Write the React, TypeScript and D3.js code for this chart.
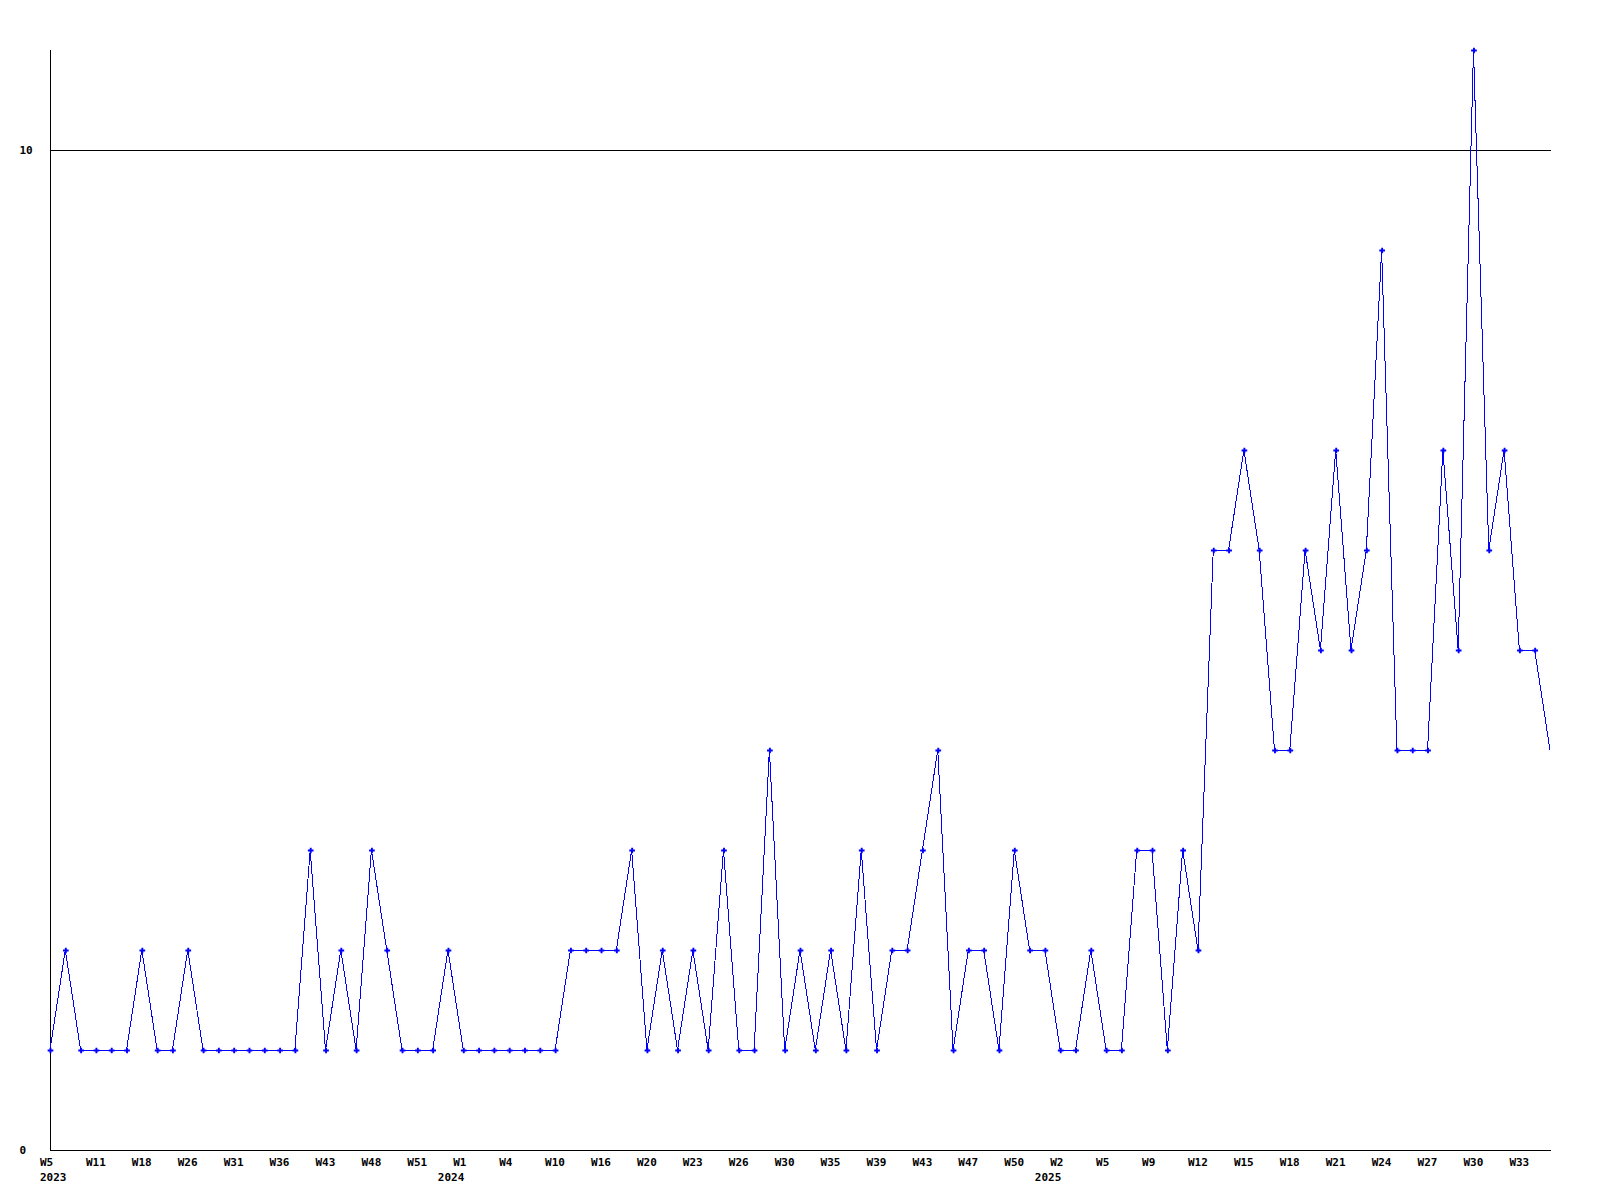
import * as d3 from 'd3';

// weekly counts, one per sample
const counts = [
  1, 2, 1, 1, 1, 1, 2, 1, 1, 2,
  1, 1, 1, 1, 1, 1, 1, 3, 1, 2,
  1, 3, 2, 1, 1, 1, 2, 1, 1, 1,
  1, 1, 1, 1, 2, 2, 2, 2, 3, 1,
  2, 1, 2, 1, 3, 1, 1, 4, 1, 2,
  1, 2, 1, 3, 1, 2, 2, 3, 4, 1,
  2, 2, 1, 3, 2, 2, 1, 1, 2, 1,
  1, 3, 3, 1, 3, 2, 6, 6, 7, 6,
  4, 4, 6, 5, 7, 5, 6, 9, 4, 4,
  4, 7, 5, 11, 6, 7, 5, 5, 4,
];

// a week label on every third sample
const weekLabels = [
  'W5', 'W11', 'W18', 'W26', 'W31', 'W36', 'W43', 'W48', 'W51', 'W1',
  'W4', 'W10', 'W16', 'W20', 'W23', 'W26', 'W30', 'W35', 'W39', 'W43',
  'W47', 'W50', 'W2', 'W5', 'W9', 'W12', 'W15', 'W18', 'W21', 'W24',
  'W27', 'W30', 'W33',
];
const labelStep = 3;

const years = ['2023', '2024', '2025'];
const yearAtLabel = [0, 9, 22];

const yTicks = [0, 10];

const W = 1600;
const H = 1200;
const left = 50;
const right = 1550;
const top = 50;
const bottom = 1150;
const font = '"DejaVu Sans Mono", monospace';
const charW = 6.6;

export default function App() {
  const x = d3
    .scaleLinear()
    .domain([0, counts.length - 1])
    .range([left, right]);
  const y = d3.scaleLinear().domain([0, 11]).range([bottom, top]);

  const line = d3
    .line<number>()
    .x((_, i) => x(i))
    .y((d) => y(d));

  const cross = d3.symbol(d3.symbolCross, 18)() ?? '';

  return (
    <svg
      width={W}
      height={H}
      style={{ position: 'absolute', left: 0, top: 0, background: '#fff' }}
    >
      {/* axes and grid */}
      <g shapeRendering="crispEdges" stroke="#000" strokeWidth={1}>
        <line x1={left + 0.5} x2={left + 0.5} y1={top} y2={bottom + 0.5} />
        {yTicks.map((t) => (
          <line
            key={t}
            x1={left}
            x2={right + 1}
            y1={Math.round(y(t)) + 0.5}
            y2={Math.round(y(t)) + 0.5}
          />
        ))}
      </g>
      <g fontFamily={font} fontSize={11} fontWeight="bold" fill="#000">
        {yTicks.map((t) => (
          <text key={t} x={19.5} y={y(t) + 4}>
            {t}
          </text>
        ))}
        {weekLabels.map((w, k) => (
          <text key={k} x={x(k * labelStep) - 10} y={1165.5}>
            {w}
          </text>
        ))}
        {years.map((yr, k) => {
          const px = x(yearAtLabel[k] * labelStep);
          const wd = yr.length * charW;
          const sx = px + 1 - wd < left ? px - 10 : px + 1 - wd;
          return (
            <text key={yr} x={sx} y={1180.5}>
              {yr}
            </text>
          );
        })}
      </g>
      {/* series */}
      <path
        d={line(counts) ?? ''}
        fill="none"
        stroke="#0000ff"
        strokeWidth={1}
        shapeRendering="crispEdges"
      />
      <g fill="#0000ff">
        {counts.slice(0, -1).map((d, i) => (
          <path
            key={i}
            d={cross}
            transform={`translate(${x(i) + 0.5},${y(d) + 0.5})`}
          />
        ))}
      </g>
    </svg>
  );
}
